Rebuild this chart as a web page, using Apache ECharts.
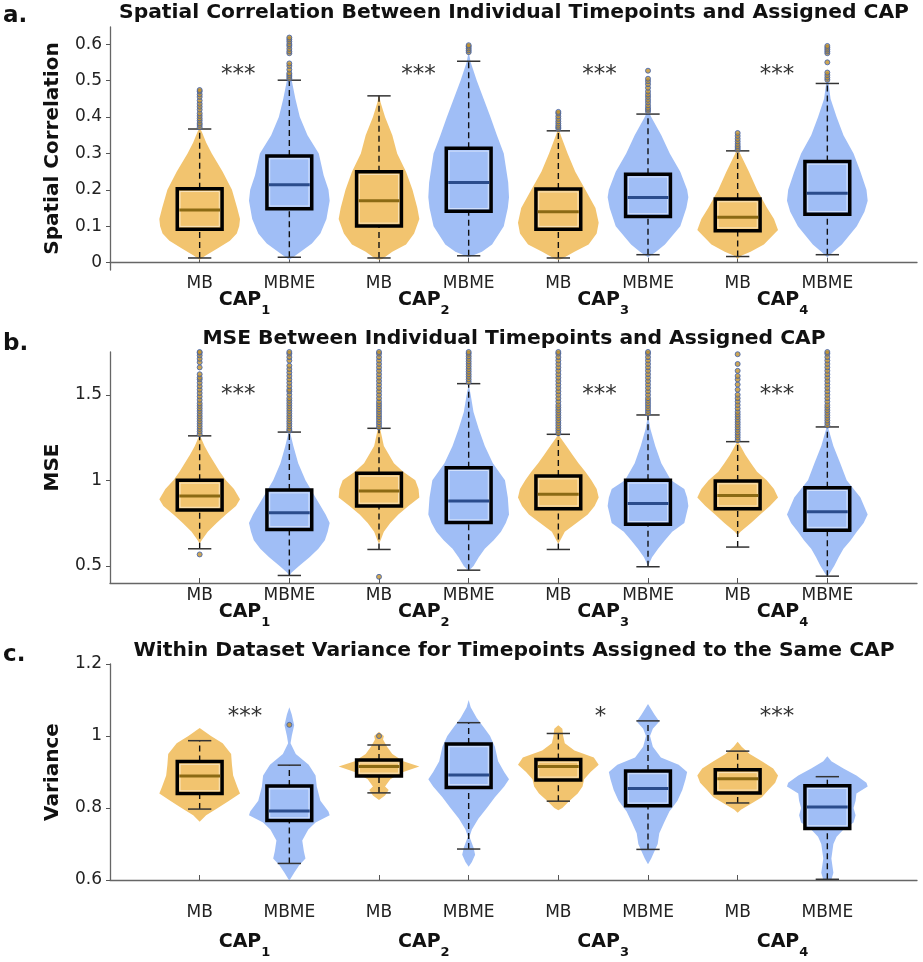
<!DOCTYPE html>
<html><head><meta charset="utf-8">
<script src="https://cdn.jsdelivr.net/npm/echarts@6/dist/echarts.min.js"></script>
<style>html,body{margin:0;padding:0;background:#fff}#c{width:923px;height:962px}</style>
</head><body><div id="c"></div>
<script>
// ---------- shared labels ----------
const groupLabels = ['MB','MBME','MB','MBME','MB','MBME','MB','MBME'];
const positions = [1,2,3,4,5,6,7,8];
const capPositions = [1.5,3.5,5.5,7.5];
const capNumbers = ['1','2','3','4'];

// ---------- panel a: spatial correlation ----------
const corrTicks = [0,0.1,0.2,0.3,0.4,0.5,0.6];
const corrBoxes = [ // [lowWhisker, q1, median, q3, highWhisker]
  [0.013,0.092,0.145,0.203,0.367],
  [0.015,0.148,0.214,0.293,0.501],
  [0.013,0.101,0.170,0.250,0.458],
  [0.019,0.141,0.220,0.314,0.553],
  [0.013,0.092,0.140,0.202,0.362],
  [0.022,0.127,0.179,0.243,0.408],
  [0.017,0.088,0.125,0.175,0.307],
  [0.022,0.133,0.191,0.278,0.492]
];
const corrViolinY = [
  [0.008,0.02,0.04,0.06,0.08,0.1,0.12,0.15,0.2,0.25,0.3,0.33,0.36,0.37],
  [0.008,0.02,0.03,0.053,0.08,0.12,0.17,0.2,0.24,0.3,0.35,0.4,0.45,0.5,0.52],
  [0.008,0.01,0.03,0.05,0.08,0.12,0.15,0.2,0.25,0.3,0.35,0.4,0.44,0.46],
  [0.015,0.02,0.03,0.05,0.1,0.15,0.18,0.22,0.3,0.35,0.4,0.45,0.5,0.55,0.58],
  [0.008,0.01,0.03,0.05,0.08,0.11,0.15,0.2,0.25,0.3,0.35,0.37],
  [0.015,0.03,0.05,0.1,0.15,0.18,0.2,0.25,0.3,0.35,0.4,0.42],
  [0.01,0.02,0.03,0.05,0.09,0.12,0.15,0.2,0.25,0.3,0.32],
  [0.015,0.03,0.05,0.1,0.14,0.17,0.2,0.25,0.3,0.35,0.4,0.45,0.5,0.52]
];
const corrViolinW = [
  [0,0.15,0.45,0.75,0.92,0.98,1.0,0.93,0.8,0.57,0.3,0.16,0.05,0],
  [0,0.15,0.28,0.56,0.77,0.92,1.0,0.97,0.85,0.73,0.45,0.26,0.15,0.06,0],
  [0,0.08,0.33,0.67,0.87,1.0,0.95,0.83,0.67,0.45,0.33,0.15,0.04,0],
  [0,0.1,0.33,0.58,0.87,0.97,1.0,0.98,0.87,0.7,0.54,0.37,0.2,0.05,0],
  [0,0.08,0.4,0.75,0.95,1.0,0.92,0.67,0.42,0.23,0.06,0],
  [0,0.2,0.42,0.8,0.95,1.0,0.97,0.8,0.54,0.33,0.08,0],
  [0,0.1,0.32,0.65,1.0,0.9,0.73,0.48,0.28,0.06,0],
  [0,0.15,0.36,0.73,0.92,1.0,0.97,0.82,0.65,0.4,0.23,0.08,0.02,0]
];
const corrOutliers = [
  [0.372,0.378,0.383,0.39,0.396,0.403,0.41,0.42,0.428,0.436,0.445,0.455,0.462,0.47,0.474],
  [0.505,0.51,0.515,0.52,0.53,0.54,0.547,0.575,0.58,0.587,0.595,0.6,0.607,0.613,0.618],
  [],
  [0.578,0.583,0.588,0.593,0.597],
  [0.368,0.372,0.376,0.382,0.388,0.395,0.402,0.41,0.414],
  [0.415,0.42,0.425,0.432,0.44,0.447,0.455,0.462,0.47,0.48,0.49,0.498,0.505,0.527],
  [0.31,0.315,0.32,0.326,0.333,0.34,0.348,0.356],
  [0.502,0.508,0.515,0.522,0.55,0.575,0.58,0.585,0.59,0.595]
];
const corrStarX = [1.43,3.44,5.46,7.44];
const corrStarY = [0.515,0.515,0.515,0.515];
const corrStarText = ['***','***','***','***'];

// ---------- panel b: MSE ----------
const mseTicks = [0.5,1,1.5];
const mseBoxes = [
  [0.600,0.826,0.908,1.000,1.260],
  [0.444,0.713,0.811,0.943,1.282],
  [0.596,0.850,0.937,1.041,1.304],
  [0.475,0.753,0.879,1.074,1.565],
  [0.596,0.834,0.918,1.025,1.269],
  [0.495,0.743,0.865,1.000,1.382],
  [0.610,0.834,0.912,0.996,1.226],
  [0.440,0.709,0.817,0.957,1.312]
];
const mseViolinY = [
  [0.63,0.65,0.7,0.75,0.8,0.85,0.89,0.95,1.0,1.05,1.1,1.15,1.2,1.25,1.27],
  [0.44,0.46,0.5,0.55,0.6,0.65,0.7,0.75,0.8,0.9,1.0,1.1,1.2,1.28,1.3],
  [0.63,0.65,0.7,0.75,0.8,0.85,0.9,0.95,1.0,1.05,1.1,1.2,1.3,1.32],
  [0.47,0.5,0.55,0.6,0.65,0.7,0.75,0.8,0.9,1.0,1.1,1.2,1.3,1.4,1.5,1.56],
  [0.63,0.65,0.7,0.75,0.8,0.85,0.9,0.95,1.0,1.05,1.1,1.15,1.2,1.25,1.27],
  [0.5,0.55,0.6,0.65,0.7,0.75,0.8,0.85,0.9,0.95,1.0,1.1,1.2,1.3,1.38],
  [0.68,0.7,0.75,0.8,0.85,0.9,0.95,1.0,1.05,1.1,1.15,1.2,1.23],
  [0.44,0.45,0.5,0.55,0.6,0.65,0.7,0.75,0.8,0.9,1.0,1.1,1.2,1.3,1.32]
];
const mseViolinW = [
  [0,0.05,0.2,0.42,0.65,0.9,1.0,0.85,0.65,0.5,0.37,0.24,0.12,0.03,0],
  [0,0.05,0.24,0.5,0.72,0.88,0.95,1.0,0.9,0.65,0.4,0.22,0.1,0.02,0],
  [0,0.04,0.12,0.28,0.48,0.73,1.0,0.98,0.9,0.6,0.37,0.12,0.03,0],
  [0,0.12,0.25,0.4,0.62,0.8,0.92,1.0,0.97,0.9,0.6,0.4,0.25,0.12,0.05,0],
  [0,0.05,0.16,0.45,0.73,0.9,1.0,0.95,0.82,0.67,0.5,0.35,0.2,0.05,0],
  [0,0.1,0.25,0.42,0.6,0.9,0.95,1.0,0.97,0.9,0.57,0.33,0.18,0.06,0],
  [0,0.07,0.33,0.56,0.8,1.0,0.9,0.72,0.48,0.33,0.19,0.07,0],
  [0,0.04,0.17,0.28,0.4,0.58,0.73,0.9,1.0,0.82,0.48,0.32,0.15,0.03,0]
];
const mseOutliers = [
  [0.567,1.27,1.285,1.30,1.315,1.33,1.345,1.36,1.375,1.39,1.405,1.42,1.435,1.45,1.47,1.49,1.51,1.53,1.55,1.57,1.59,1.60,1.62,1.66,1.69,1.71,1.73,1.745,1.75],
  [1.29,1.30,1.315,1.33,1.345,1.36,1.375,1.39,1.405,1.42,1.435,1.45,1.465,1.48,1.50,1.52,1.53,1.55,1.57,1.59,1.61,1.63,1.65,1.67,1.70,1.72,1.74,1.75],
  [0.436,1.31,1.325,1.34,1.355,1.37,1.385,1.40,1.415,1.43,1.445,1.46,1.48,1.50,1.52,1.54,1.56,1.58,1.60,1.62,1.64,1.66,1.68,1.70,1.72,1.74,1.75],
  [1.575,1.59,1.605,1.62,1.635,1.65,1.665,1.68,1.695,1.71,1.725,1.74,1.75],
  [1.275,1.29,1.305,1.32,1.335,1.35,1.365,1.38,1.395,1.41,1.425,1.44,1.46,1.48,1.50,1.52,1.54,1.56,1.58,1.60,1.62,1.64,1.66,1.68,1.70,1.72,1.74,1.75],
  [1.39,1.405,1.42,1.435,1.45,1.465,1.48,1.50,1.52,1.54,1.56,1.58,1.60,1.62,1.64,1.66,1.68,1.70,1.72,1.74,1.75],
  [1.235,1.25,1.265,1.28,1.295,1.31,1.325,1.34,1.355,1.37,1.385,1.40,1.42,1.44,1.46,1.48,1.50,1.53,1.56,1.59,1.61,1.64,1.68,1.737],
  [1.32,1.335,1.35,1.365,1.38,1.395,1.41,1.425,1.44,1.46,1.48,1.50,1.52,1.54,1.56,1.58,1.60,1.62,1.64,1.66,1.68,1.70,1.72,1.74,1.75]
];
const mseStarX = [1.43,5.46,7.44];
const mseStarY = [1.5,1.5,1.5];
const mseStarText = ['***','***','***'];

// ---------- panel c: variance ----------
const varTicks = [0.6,0.8,1,1.2];
const varBoxes = [
  [0.797,0.840,0.889,0.929,0.987],
  [0.646,0.765,0.792,0.861,0.919],
  [0.842,0.889,0.915,0.933,0.975],
  [0.686,0.857,0.892,0.978,1.037],
  [0.819,0.878,0.915,0.935,1.007],
  [0.685,0.806,0.854,0.903,1.042],
  [0.814,0.842,0.881,0.906,0.958],
  [0.602,0.743,0.803,0.862,0.887]
];
const varViolinY = [
  [0.762,0.78,0.80,0.82,0.84,0.86,0.89,0.92,0.95,0.98,1.0,1.022],
  [0.598,0.62,0.64,0.66,0.68,0.71,0.74,0.76,0.78,0.79,0.82,0.86,0.89,0.92,0.95,0.98,1.0,1.03,1.06,1.08],
  [0.822,0.835,0.85,0.86,0.88,0.90,0.915,0.93,0.95,0.97,0.99,1.0,1.012],
  [0.637,0.65,0.67,0.69,0.72,0.74,0.77,0.8,0.83,0.86,0.88,0.9,0.93,0.97,1.0,1.02,1.05,1.08,1.1],
  [0.794,0.80,0.82,0.84,0.86,0.88,0.90,0.92,0.94,0.96,0.98,1.0,1.02,1.03],
  [0.644,0.66,0.68,0.70,0.73,0.76,0.79,0.82,0.85,0.88,0.90,0.92,0.94,0.97,1.0,1.02,1.04,1.06,1.089],
  [0.787,0.795,0.81,0.83,0.85,0.87,0.89,0.91,0.93,0.95,0.97,0.984],
  [0.6,0.62,0.66,0.70,0.72,0.74,0.76,0.78,0.80,0.82,0.84,0.86,0.87,0.89,0.91,0.93,0.944]
];
const varViolinW = [
  [0,0.16,0.45,0.73,1.0,0.93,0.83,0.8,0.78,0.57,0.28,0],
  [0,0.12,0.24,0.4,0.36,0.32,0.47,0.65,1.0,0.97,0.77,0.68,0.65,0.48,0.16,0.03,0.06,0.12,0.06,0],
  [0,0.15,0.24,0.15,0.28,0.6,1.0,0.6,0.33,0.2,0.1,0.12,0],
  [0,0.08,0.16,0.12,0.02,0.08,0.24,0.45,0.65,0.88,1.0,0.88,0.73,0.65,0.53,0.4,0.2,0.05,0],
  [0,0.1,0.28,0.48,0.6,0.64,0.8,1.0,0.88,0.4,0.16,0.12,0.1,0],
  [0,0.08,0.16,0.24,0.28,0.4,0.53,0.73,0.85,0.93,0.97,0.76,0.32,0.12,0.05,0.12,0.28,0.16,0],
  [0,0.08,0.3,0.6,0.76,0.93,1.0,0.88,0.6,0.3,0.1,0],
  [0.1,0.15,0.1,0.15,0.23,0.4,0.65,0.7,0.65,0.7,0.72,1.0,0.97,0.72,0.4,0.1,0]
];
const varOutliers = [[],[1.031],[1.0],[],[],[],[],[]];
const varStarX = [1.505,5.47,7.44];
const varStarY = [1.053,1.053,1.053];
const varStarText = ['***','*','***'];

// ---------- styling ----------
const FONT = 'DejaVu Sans';
const fillColors = ['#F2C46F','#A0BEF6'];
const medianColors = ['#8B6A14','#2B4C8C'];
const VIOLIN_HALF = 0.45, BOX_HALF = 0.25, CAP_HALF = 0.13;

const panels = [
  {top:27, height:243, min:-0.02, max:0.647, ticks:corrTicks, name:'Spatial Correlation',
   title:'Spatial Correlation Between Individual Timepoints and Assigned CAP', titleTop:3, letter:'a.', letterTop:5,
   boxes:corrBoxes, vy:corrViolinY, vw:corrViolinW, out:corrOutliers, sx:corrStarX, sy:corrStarY, st:corrStarText,
   labMargin:5, capMargin:21},
  {top:352, height:231, min:0.4, max:1.75, ticks:mseTicks, name:'MSE',
   title:'MSE Between Individual Timepoints and Assigned CAP', titleTop:329, letter:'b.', letterTop:333,
   boxes:mseBoxes, vy:mseViolinY, vw:mseViolinW, out:mseOutliers, sx:mseStarX, sy:mseStarY, st:mseStarText,
   labMargin:4, capMargin:20},
  {top:664, height:216, min:0.6, max:1.2, ticks:varTicks, name:'Variance',
   title:'Within Dataset Variance for Timepoints Assigned to the Same CAP', titleTop:641, letter:'c.', letterTop:644,
   boxes:varBoxes, vy:varViolinY, vw:varViolinW, out:varOutliers, sx:varStarX, sy:varStarY, st:varStarText,
   labMargin:24, capMargin:53}
];

const grid = [], xAxis = [], yAxis = [], series = [], title = [];
panels.forEach((P, g) => {
  grid.push({left:110, right:6, top:P.top, height:P.height, containLabel:false});
  title.push({text:P.title, left:514, top:P.titleTop, textAlign:'center', padding:0,
    textStyle:{fontFamily:FONT, fontWeight:'bold', fontSize:20.3, color:'#111'}});
  title.push({text:P.letter, left:3, top:P.letterTop, padding:0,
    textStyle:{fontFamily:FONT, fontWeight:'bold', fontSize:23, color:'#111'}});
  xAxis.push({type:'value', gridIndex:g, min:0, max:9, splitLine:{show:false},
    axisLine:{show:true, lineStyle:{color:'#666', width:1.3}},
    axisTick:{show:true, inside:true, length:5, customValues:positions, lineStyle:{color:'#555'}},
    axisLabel:{show:true, customValues:positions, margin:P.labMargin, color:'#222', fontFamily:FONT, fontSize:17,
      formatter:v => groupLabels[Math.round(v)-1] || ''}});
  xAxis.push({type:'value', gridIndex:g, min:0, max:9, position:'bottom', splitLine:{show:false},
    axisLine:{show:false}, axisTick:{show:false},
    axisLabel:{show:true, customValues:capPositions, margin:P.capMargin,
      formatter:v => '{b|CAP}{s|' + capNumbers[capPositions.indexOf(v)] + '}',
      rich:{b:{fontFamily:FONT, fontWeight:'bold', fontSize:19, color:'#111', lineHeight:26, verticalAlign:'top'},
            s:{fontFamily:FONT, fontWeight:'bold', fontSize:13, color:'#111', lineHeight:26, verticalAlign:'bottom'}}}});
  yAxis.push({type:'value', gridIndex:g, min:P.min, max:P.max, splitLine:{show:false},
    name:P.name, nameLocation:'middle', nameGap:47, nameRotate:90,
    nameTextStyle:{fontFamily:FONT, fontWeight:'bold', fontSize:20, color:'#111'},
    axisLine:{show:true, lineStyle:{color:'#666', width:1.3}},
    axisTick:{show:true, inside:false, length:4, customValues:P.ticks, lineStyle:{color:'#555'}},
    axisLabel:{show:true, customValues:P.ticks, margin:8, color:'#222', fontFamily:FONT, fontSize:17}});

  const xi = 2*g, yi = g;
  // violins
  series.push({type:'custom', xAxisIndex:xi, yAxisIndex:yi, silent:true, z:1, clip:true,
    encode:{x:0, y:1},
    data: positions.map((p,i) => [p, P.boxes[i][2]]),
    renderItem:(params, api) => {
      const i = params.dataIndex, p = api.value(0);
      const ys = P.vy[i], ws = P.vw[i];
      const right = ys.map((y,k) => api.coord([p + ws[k]*VIOLIN_HALF, y]));
      const left = ys.map((y,k) => api.coord([p - ws[k]*VIOLIN_HALF, y])).reverse();
      return {type:'polygon', shape:{points:right.concat(left)}, style:{fill:fillColors[i%2]}};
    }});
  // boxes + whiskers
  series.push({type:'custom', xAxisIndex:xi, yAxisIndex:yi, silent:true, z:2, clip:false,
    encode:{x:0, y:1},
    data: positions.map((p,i) => [p, P.boxes[i][2]]),
    renderItem:(params, api) => {
      const i = params.dataIndex, p = api.value(0);
      const [lo,q1,med,q3,hi] = P.boxes[i];
      const c = (x,y) => api.coord([x,y]);
      const pLo = c(p,lo), pQ1 = c(p,q1), pQ3 = c(p,q3), pHi = c(p,hi);
      const tl = c(p-BOX_HALF,q3), br = c(p+BOX_HALF,q1);
      const mL = c(p-BOX_HALF,med), mR = c(p+BOX_HALF,med);
      const cl1 = c(p-CAP_HALF,lo), cl2 = c(p+CAP_HALF,lo);
      const ch1 = c(p-CAP_HALF,hi), ch2 = c(p+CAP_HALF,hi);
      const dash = {stroke:'#111', lineWidth:1.4, lineDash:[6,4]};
      const capSt = {stroke:'#333', lineWidth:1.5};
      const w = br[0]-tl[0], h = br[1]-tl[1];
      return {type:'group', children:[
        {type:'line', shape:{x1:pLo[0],y1:pLo[1],x2:pQ1[0],y2:pQ1[1]}, style:dash},
        {type:'line', shape:{x1:pQ3[0],y1:pQ3[1],x2:pHi[0],y2:pHi[1]}, style:dash},
        {type:'line', shape:{x1:cl1[0],y1:cl1[1],x2:cl2[0],y2:cl2[1]}, style:capSt},
        {type:'line', shape:{x1:ch1[0],y1:ch1[1],x2:ch2[0],y2:ch2[1]}, style:capSt},
        {type:'rect', shape:{x:tl[0], y:tl[1], width:w, height:h},
          style:{fill:fillColors[i%2], stroke:'#000', lineWidth:3.5}},
        {type:'rect', shape:{x:tl[0]+2.8, y:tl[1]+2.8, width:w-5.6, height:h-5.6},
          style:{fill:'none', stroke:'rgba(255,255,255,0.55)', lineWidth:1}},
        {type:'line', shape:{x1:mL[0]+2,y1:mL[1],x2:mR[0]-2,y2:mR[1]}, style:{stroke:medianColors[i%2], lineWidth:3}}
      ]};
    }});
  // outliers
  const outData = [];
  P.out.forEach((arr,i) => arr.forEach(v => outData.push([positions[i], v])));
  series.push({type:'scatter', xAxisIndex:xi, yAxisIndex:yi, silent:true, z:3, symbol:'circle', symbolSize:5,
    itemStyle:{color:'#C0902A', borderColor:'#3A5FB0', borderWidth:1}, data:outData});
  // significance stars
  series.push({type:'custom', xAxisIndex:xi, yAxisIndex:yi, silent:true, z:4, clip:false,
    encode:{x:0, y:1},
    data: P.sx.map((x,k) => [x, P.sy[k]]),
    renderItem:(params, api) => {
      const pt = api.coord([api.value(0), api.value(1)]);
      return {type:'text', x:pt[0], y:pt[1],
        style:{text:P.st[params.dataIndex], fontFamily:FONT, fontSize:23, fill:'#333', align:'center', verticalAlign:'middle'}};
    }});
});

const chart = echarts.init(document.getElementById('c'), null, {renderer:'canvas'});
chart.setOption({backgroundColor:'#fff', animation:false, title, grid, xAxis, yAxis, series});
</script></body></html>
